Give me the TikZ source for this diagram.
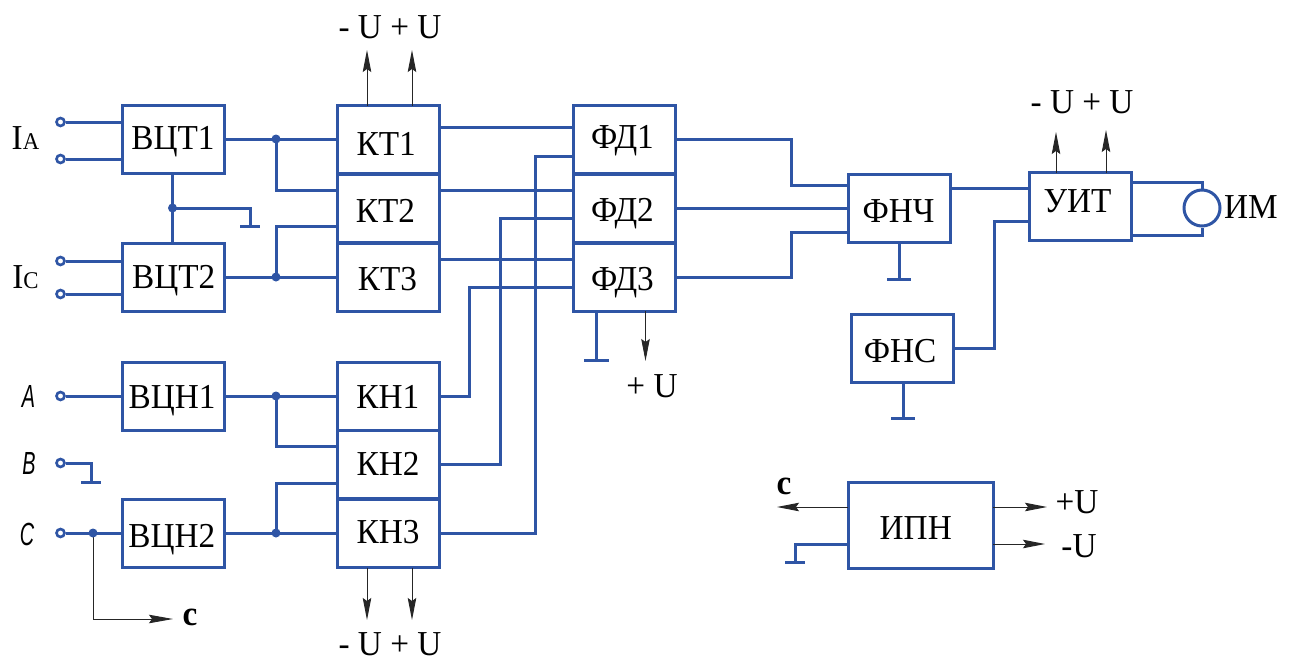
\documentclass[tikz,border=0pt]{standalone}
\usepackage{fontspec}
\setmainfont[FakeStretch=0.95]{Liberation Serif}
\newfontfamily\gostfont{Liberation Sans}
\usetikzlibrary{arrows.meta}
\definecolor{wireblue}{RGB}{47,85,165}
\tikzset{
  x=1pt,y=-1pt,
  wire/.style={draw=wireblue,line width=3pt,line join=miter},
  blk/.style={draw=wireblue,line width=3pt,fill=white,rectangle,inner sep=0pt,outer sep=0pt,minimum width=102pt,minimum height=68pt,text height=23pt,text depth=0pt,font=\fontsize{35}{38}\selectfont},
  thinarrow/.style={draw=black!85,line width=0.9pt,-{Stealth[length=22pt,width=8.5pt,inset=3pt]}},
  dot/.style={circle,fill=wireblue,inner sep=0pt,minimum size=9pt},
  term/.style={circle,draw=wireblue,line width=2.6pt,fill=white,inner sep=0pt,minimum size=8pt},
  lab/.style={inner sep=0pt,font=\fontsize{35}{38}\selectfont},
  phase/.style={inner sep=0pt,font=\gostfont\itshape\fontsize{32}{35}\selectfont},
  bar/.style={draw=wireblue,line width=3pt}
}
\newcommand{\gbar}[2]{\draw[bar] (#1)++(-#2,0) -- ++(2*#2,0);}
\newcommand{\bl}[3]{\hspace{#1pt}\raisebox{-#2pt}{#3}\hspace{-#1pt}}
\begin{document}
\begin{tikzpicture}
\useasboundingbox[fill=white] (0,0) rectangle (1296,661);
% junctions and free ends
\coordinate (j1) at (276,139);
\coordinate (j2) at (276,277);
\coordinate (j3) at (172.5,208);
\coordinate (j4) at (276,396);
\coordinate (j5) at (276,533);
\coordinate (j6) at (93,533);
\coordinate (g1) at (250,226);
\coordinate (g2) at (91,482);
\coordinate (g3) at (596.5,360);
\coordinate (g4) at (899,279);
\coordinate (g5) at (903,418);
\coordinate (g6) at (795,562);
\coordinate (c1) at (173,619);
\coordinate (k1) at (367,50);
\coordinate (k2) at (412,50);
\coordinate (k3) at (367,620);
\coordinate (k4) at (412,620);
\coordinate (f1) at (645.5,361);
\coordinate (u1) at (1056,132);
\coordinate (u2) at (1106,130);
\coordinate (i1) at (777,507);
\coordinate (i2) at (1047,507);
\coordinate (i3) at (1045,544);
% terminals
\node[term] (ta1) at (60.5,122) {};
\node[term] (ta2) at (60.5,159) {};
\node[term] (tc1) at (60.5,261) {};
\node[term] (tc2) at (60.5,294) {};
\node[term] (pa) at (60.5,396) {};
\node[term] (pb) at (60.5,463) {};
\node[term] (pc) at (60.5,533) {};
% thin line
\draw[draw=black!85,line width=0.9pt,-{Stealth[length=24pt,width=8.5pt,inset=3pt]}] (j6) |- (c1);
% blocks
\node[blk] (vct1) at (173,139) {\bl{0}{-1.5}{ВЦТ1}};
\node[blk] (vct2) at (173,277) {\bl{1.5}{-0.5}{ВЦТ2}};
\node[blk] (vcn1) at (173,396) {\bl{-2}{0.5}{ВЦН1}};
\node[blk] (vcn2) at (173,533.5) {\bl{-2.5}{2}{ВЦН2}};
\node[blk] (kt1) at (388.5,139.5) {\bl{-4.5}{4}{КТ1}};
\node[blk] (kt2) at (388.5,208.5) {\bl{-6}{2}{КТ2}};
\node[blk] (kt3) at (388.5,277) {\bl{-2}{1.5}{КТ3}};
\node[blk] (kn1) at (388.5,396) {\bl{-1.5}{0.5}{КН1}};
\node[blk] (kn2) at (388.5,464.5) {\bl{-1}{-1}{КН2}};
\node[blk] (kn3) at (388.5,533.5) {\bl{-1}{-2}{КН3}};
\node[blk] (fd1) at (624,139) {\bl{-3}{-2.5}{ФД1}};
\node[blk] (fd2) at (624,208) {\bl{-3}{2}{ФД2}};
\node[blk] (fd3) at (624,277) {\bl{-3}{1.5}{ФД3}};
\node[blk] (fnch) at (899,208) {\bl{-1}{2.5}{ФНЧ}};
\node[blk] (fns) at (902,348) {\bl{-4}{2.5}{ФНС}};
\node[blk] (uit) at (1080.5,206.5) {\bl{-6}{-6}{УИТ}};
\node[blk,minimum width=145pt,minimum height=86pt] (ipn) at (920.5,525) {\bl{-9.5}{2.5}{ИПН}};
\node[circle,draw=wireblue,line width=3pt,fill=white,inner sep=0pt,minimum size=36pt] (im) at (1202,208) {};
% input wires
\draw[wire] (ta1) -- (vct1.west |- ta1);
\draw[wire] (ta2) -- (vct1.west |- ta2);
\draw[wire] (tc1) -- (vct2.west |- tc1);
\draw[wire] (tc2) -- (vct2.west |- tc2);
\draw[wire] (pa) -- (vcn1.west |- pa);
\draw[wire] (pb) -| (g2);
\gbar{g2}{10}
\draw[wire] (pc) -- (vcn2.west |- pc);
% converter to switch wires
\draw[wire] (vct1.east |- j1) -- (kt1.west |- j1);
\draw[wire] (j1) |- (kt2.west |- 0,190);
\draw[wire] (vct2.east |- j2) -- (kt3.west |- j2);
\draw[wire] (j2) |- (kt2.west |- 0,226);
\draw[wire] (vcn1.east |- j4) -- (kn1.west |- j4);
\draw[wire] (j4) |- (kn2.west |- 0,446);
\draw[wire] (vcn2.east |- j5) -- (kn3.west |- j5);
\draw[wire] (j5) |- (kn2.west |- 0,483);
\draw[wire] (vct1.south -| j3) -- (vct2.north -| j3);
\draw[wire] (j3) -| (g1);
\gbar{g1}{10}
% switch to detector wires
\draw[wire] (kt1.east |- 0,127) -- (fd1.west |- 0,127);
\draw[wire] (kt2.east |- 0,190) -- (fd2.west |- 0,190);
\draw[wire] (kt3.east |- 0,259) -- (fd3.west |- 0,259);
\draw[wire] (kn1.east) -- (469,396) |- (fd3.west |- 0,287);
\draw[wire] (kn2.east) -- (500,464.5) |- (fd2.west |- 0,218);
\draw[wire] (kn3.east) -- (535,533.5) |- (fd1.west |- 0,156);
% detector to filter
\draw[wire] (fd1.east) -- (791,139) |- (fnch.west |- 0,185);
\draw[wire] (fd2.east) -- (fnch.west);
\draw[wire] (fd3.east) -- (791,277) |- (fnch.west |- 0,232);
\draw[wire] (fnch.east |- 0,188) -- (uit.west |- 0,188);
\draw[wire] (fns.east) -- (994,348) |- (uit.west |- 0,221);
\draw[wire] (uit.east |- 0,182) -| (im.north);
\draw[wire] (uit.east |- 0,235) -| (im.south);
% grounds
\draw[wire] (fd3.south -| g3) -- (g3); \gbar{g3}{12.5}
\draw[wire] (fnch.south -| g4) -- (g4); \gbar{g4}{12}
\draw[wire] (fns.south -| g5) -- (g5); \gbar{g5}{12}
\draw[wire] (ipn.west |- 0,544) -| (g6); \gbar{g6}{10}
% junction dots
\node[dot] at (j1) {};
\node[dot] at (j2) {};
\node[dot] at (j3) {};
\node[dot] at (j4) {};
\node[dot] at (j5) {};
\node[dot] at (j6) {};
% thin arrows
\draw[thinarrow] (kt1.north -| k1) -- (k1);
\draw[thinarrow] (kt1.north -| k2) -- (k2);
\draw[thinarrow] (kn3.south -| k3) -- (k3);
\draw[thinarrow] (kn3.south -| k4) -- (k4);
\draw[thinarrow] (fd3.south -| f1) -- (f1);
\draw[thinarrow] (uit.north -| u1) -- (u1);
\draw[thinarrow] (uit.north -| u2) -- (u2);
\draw[thinarrow] (ipn.west |- i1) -- (i1);
\draw[thinarrow] (ipn.east |- i2) -- (i2);
\draw[thinarrow] (ipn.east |- i3) -- (i3);
% labels
\node[lab] (l1) at (390,27) {- U + U};
\node[lab] (l2) at (390,644) {- U + U};
\node[lab] (l3) at (652,386) {+ U};
\node[lab] (l4) at (1082,102) {- U + U};
\node[lab] (l5) at (1077,502.5) {+U};
\node[lab] (l6) at (1079,546.5) {-U};
\node[lab] (l7) at (1251,207) {ИМ};
\node[lab,font=\fontsize{35}{38}\selectfont\bfseries] (l8) at (190,617) {c};
\node[lab,font=\fontsize{35}{38}\selectfont\bfseries] (l9) at (784,486) {c};
\node[lab] (ia) at (25.5,138) {I\fontsize{24}{26}\selectfont A};
\node[lab] (ic) at (25.5,277) {I\fontsize{24}{26}\selectfont C};
\node[phase] (la) at (28.5,396) {\scalebox{.62}[1]{A}};
\node[phase] (lb) at (29,463) {\scalebox{.62}[1]{B}};
\node[phase] (lc) at (27,534) {\scalebox{.62}[1]{C}};
\end{tikzpicture}
\end{document}
